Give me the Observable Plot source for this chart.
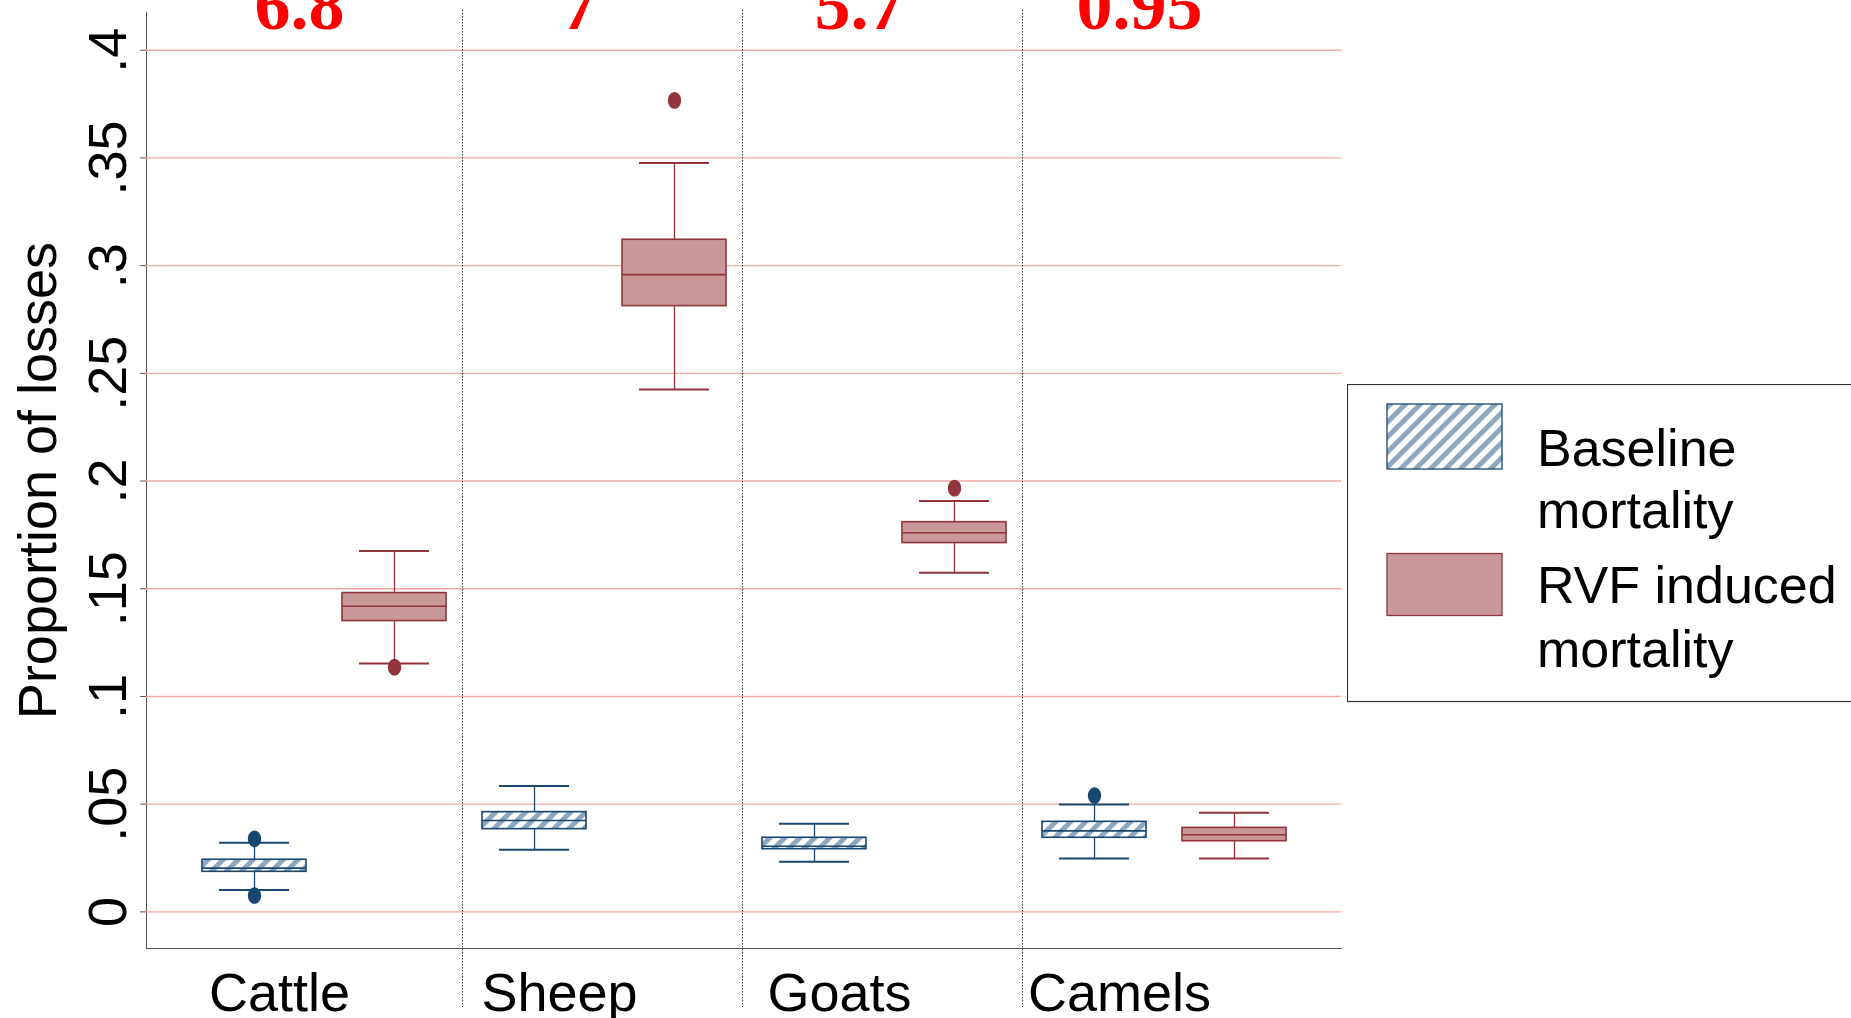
<!DOCTYPE html>
<html>
<head>
<meta charset="utf-8">
<script src="https://cdn.jsdelivr.net/npm/d3@7"></script>
<script src="https://cdn.jsdelivr.net/npm/@observablehq/plot@0.6"></script>
<style>
  html, body { margin: 0; padding: 0; background: #fff; overflow: hidden; }
  #wrap { position: relative; width: 1851px; height: 1018px; }
  #legend { position: absolute; left: 1347px; top: 384px; }
</style>
</head>
<body>
<div id="wrap"></div>
<script>
// Species and the two mortality components
const categories = ["Cattle", "Sheep", "Goats", "Camels"];
const series = ["Baseline mortality", "RVF induced mortality"];

// Box-plot summaries (lower whisker, Q1, median, Q3, upper whisker) per species
const baselineLow    = [0.0101, 0.0288, 0.0233, 0.0248];
const baselineQ1     = [0.0186, 0.0384, 0.0291, 0.0344];
const baselineMedian = [0.0203, 0.0424, 0.0305, 0.0376];
const baselineQ3     = [0.0242, 0.0463, 0.0344, 0.0418];
const baselineHigh   = [0.0321, 0.0584, 0.0409, 0.0499];

const rvfLow    = [0.1153, 0.2425, 0.1574, 0.0248];
const rvfQ1     = [0.1350, 0.2812, 0.1712, 0.0328];
const rvfMedian = [0.1419, 0.2958, 0.1760, 0.0358];
const rvfQ3     = [0.1480, 0.3120, 0.1809, 0.0390];
const rvfHigh   = [0.1675, 0.3476, 0.1907, 0.0460];

// Outside values [species, proportion]
const baselineOutliers = [["Cattle", 0.0339], ["Cattle", 0.0076], ["Camels", 0.0540]];
const rvfOutliers      = [["Cattle", 0.1136], ["Sheep", 0.3767], ["Goats", 0.1967]];

// Ratio annotations written above each species
const ratioLabels = ["6.8", "7", "5.7", "0.95"];

// Y axis ticks
const yTicks = [0, 0.05, 0.1, 0.15, 0.2, 0.25, 0.3, 0.35, 0.4];

const key = (c, s) => `${c} · ${s}`;
const keys = categories.flatMap(c => series.map(s => key(c, s)));

function summaries(s, low, q1, med, q3, high) {
  return categories.map((c, i) => ({
    key: key(c, s), low: low[i], q1: q1[i], median: med[i], q3: q3[i], high: high[i]
  }));
}
const baselineRows = summaries(series[0], baselineLow, baselineQ1, baselineMedian, baselineQ3, baselineHigh);
const rvfRows = summaries(series[1], rvfLow, rvfQ1, rvfMedian, rvfQ3, rvfHigh);
const baselineOut = baselineOutliers.map(([c, v]) => ({key: key(c, series[0]), value: v}));
const rvfOut = rvfOutliers.map(([c, v]) => ({key: key(c, series[1]), value: v}));

const blue = "#1a476f", hatchBlue = "#8fa8c2";
const maroon = "#90353b", rose = "#c8989b";

// Slightly tall ellipse used for outside values
const ellipse = {
  draw(ctx, size) {
    const ry = Math.sqrt(size / Math.PI), rx = ry * 0.8, k = 0.5523;
    ctx.moveTo(rx, 0);
    ctx.bezierCurveTo(rx, ry * k, rx * k, ry, 0, ry);
    ctx.bezierCurveTo(-rx * k, ry, -rx, ry * k, -rx, 0);
    ctx.bezierCurveTo(-rx, -ry * k, -rx * k, -ry, 0, -ry);
    ctx.bezierCurveTo(rx * k, -ry, rx, -ry * k, rx, 0);
    ctx.closePath();
  }
};

function boxMarks(rows, outs, stroke, fill) {
  return [
    Plot.ruleX(rows, {x: "key", y1: "q3", y2: "high", stroke, strokeWidth: 1.3}),
    Plot.ruleX(rows, {x: "key", y1: "low", y2: "q1", stroke, strokeWidth: 1.3}),
    Plot.barY(rows, {x: "key", y1: "q1", y2: "q3", fill, stroke, strokeWidth: 1.6, insetLeft: 18, insetRight: 18}),
    Plot.tickY(rows, {x: "key", y: "median", stroke, strokeWidth: 1.6, insetLeft: 18, insetRight: 18}),
    Plot.tickY(rows, {x: "key", y: "high", stroke, strokeWidth: 2, insetLeft: 35, insetRight: 35}),
    Plot.tickY(rows, {x: "key", y: "low", stroke, strokeWidth: 2, insetLeft: 35, insetRight: 35}),
    Plot.dot(outs, {x: "key", y: "value", r: 8.3, symbol: ellipse, fill: stroke, stroke: "none"})
  ];
}

const fmt = d => d === 0 ? "0" : d3.format(".2~f")(d).replace(/^0/, "");

const chart = Plot.plot({
  width: 1851,
  height: 1018,
  marginLeft: 146,
  marginRight: 510,
  marginTop: 12,
  marginBottom: 70,
  style: {fontFamily: "'Liberation Sans', Arial, sans-serif", color: "#555", background: "white", overflow: "visible"},
  x: {type: "band", domain: keys, paddingInner: 0, paddingOuter: 0.265, line: true, tickSize: 0, tickFormat: () => "", label: null},
  y: {domain: [-0.017, 0.4175], ticks: yTicks, tickSize: 6, tickFormat: () => "", line: true, label: null},
  marks: [
    Plot.ruleY(yTicks, {stroke: "#f0aaa4", strokeWidth: 1.4}),
    Plot.ruleX(categories.slice(1), {x: c => key(c, series[0]), dx: -72, stroke: "#333", strokeWidth: 1, strokeDasharray: "1.5,1.5", insetTop: -2, insetBottom: -59}),
    ...boxMarks(baselineRows, baselineOut, blue, "url(#hatch)"),
    ...boxMarks(rvfRows, rvfOut, maroon, rose),
    // y tick labels, rotated
    Plot.text(yTicks, {y: d => d, text: fmt, frameAnchor: "left", textAnchor: "middle", dx: -38, rotate: -90, fontSize: 54, fill: "black", lineAnchor: "middle"}),
    // y axis title
    Plot.text(["Proportion of losses"], {text: d => d, frameAnchor: "left", textAnchor: "middle", dx: -108, rotate: -90, fontSize: 54, fill: "black", lineAnchor: "middle"}),
    // species labels
    Plot.text(categories, {x: c => key(c, series[0]), text: d => d, dx: 25, frameAnchor: "bottom", textAnchor: "middle", dy: 45, fontSize: 54, fill: "black", lineAnchor: "middle"}),
    // ratio annotations
    Plot.text(ratioLabels, {x: (d, i) => key(categories[i], series[0]), text: d => d, dx: 45, frameAnchor: "top", textAnchor: "middle", dy: -7, fontSize: 72, fontWeight: "bold", fontFamily: "'Liberation Serif', 'Times New Roman', serif", fill: "red", lineAnchor: "middle"})
  ]
});

function addHatch(svgSel, id) {
  const defs = svgSel.insert("defs", ":first-child");
  const pat = defs.append("pattern")
    .attr("id", id)
    .attr("patternUnits", "userSpaceOnUse")
    .attr("width", 10.6).attr("height", 10.6)
    .attr("patternTransform", "rotate(45)");
  pat.append("rect").attr("width", 10.6).attr("height", 10.6).attr("fill", "white");
  pat.append("rect").attr("x", 0).attr("width", 5).attr("height", 10.6).attr("fill", hatchBlue);
}

addHatch(d3.select(chart), "hatch");
document.getElementById("wrap").appendChild(chart);

// Legend box at the right
const legend = d3.select("#wrap").append("svg")
  .attr("id", "legend")
  .attr("width", 504).attr("height", 320)
  .style("font-family", "'Liberation Sans', Arial, sans-serif");
addHatch(legend, "hatchLegend");
legend.append("rect").attr("x", 0.5).attr("y", 0.5).attr("width", 560).attr("height", 317)
  .attr("fill", "white").attr("stroke", "#333").attr("stroke-width", 1.2);
legend.append("rect").attr("x", 40).attr("y", 20).attr("width", 115).attr("height", 65)
  .attr("fill", "url(#hatchLegend)").attr("stroke", blue).attr("stroke-width", 1.3);
legend.append("rect").attr("x", 40).attr("y", 169.5).attr("width", 115).attr("height", 62)
  .attr("fill", rose).attr("stroke", maroon).attr("stroke-width", 1.3);
const legendLines = [["Baseline", "mortality"], ["RVF induced", "mortality"]];
const baselines = [[81.7, 144], [219.3, 282.7]];
legendLines.forEach((lines, i) => {
  lines.forEach((t, j) => {
    legend.append("text").attr("x", 190).attr("y", baselines[i][j])
      .attr("font-size", 52).attr("fill", "black").text(t);
  });
});
</script>
</body>
</html>
